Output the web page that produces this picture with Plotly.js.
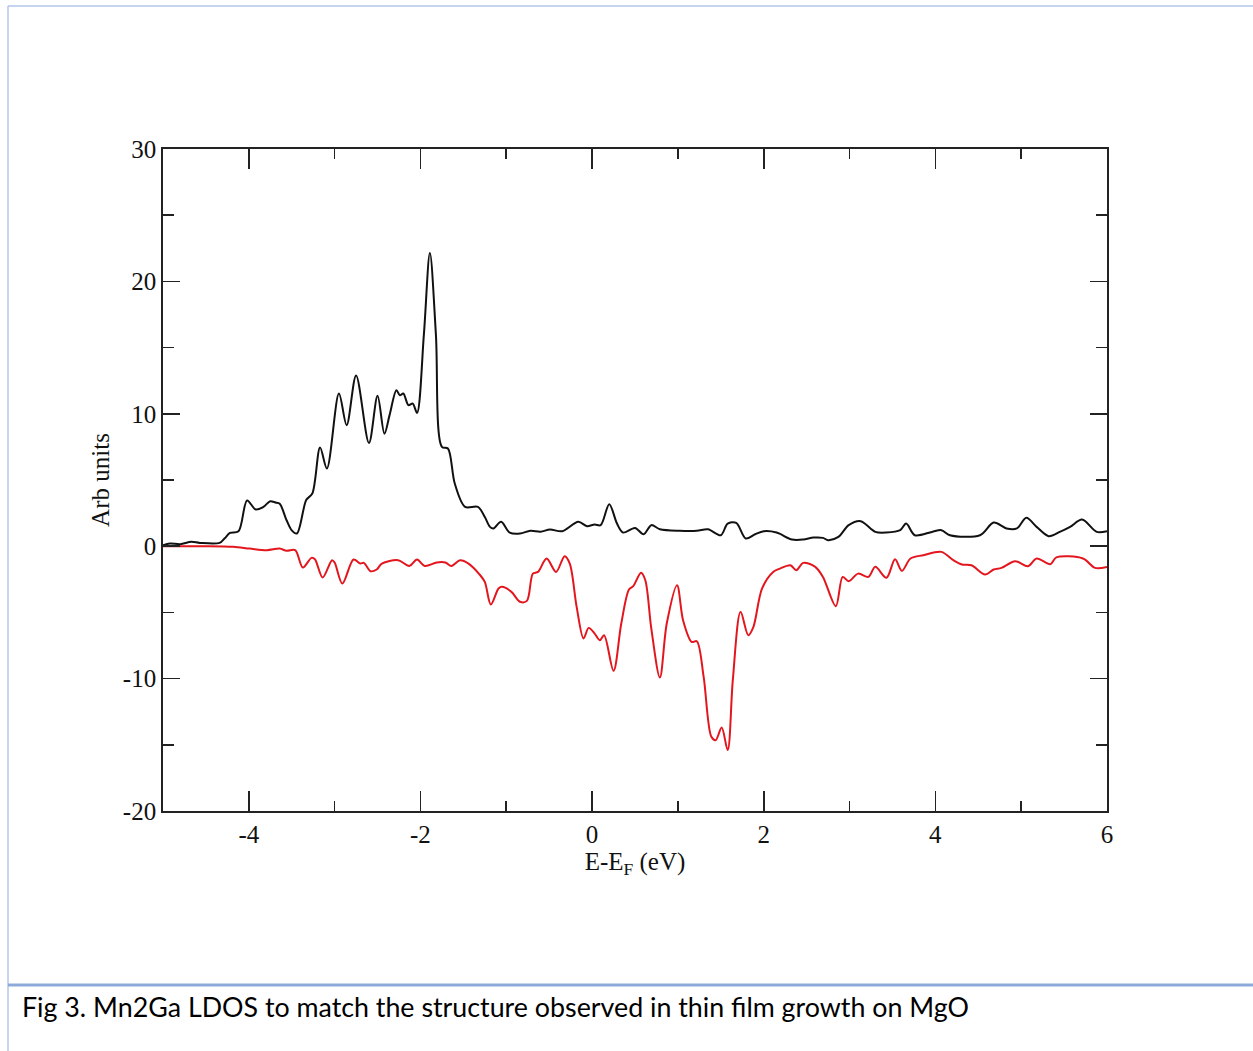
<!DOCTYPE html>
<html>
<head>
<meta charset="utf-8">
<script src="https://cdn.plot.ly/plotly-3.0.1.min.js"></script>
<style>html,body{margin:0;padding:0;background:#fff;} #chart{width:1253px;height:1051px;}</style>
</head>
<body>
<div id="chart"></div>
<script>
// Spin-up (majority) LDOS
const upEnergy = [-5.0,-4.92,-4.8,-4.67,-4.57,-4.34,-4.28,-4.22,-4.12,-4.02,-3.92,-3.83,-3.75,-3.69,-3.64,-3.56,-3.5,-3.44,-3.33,-3.26,-3.17,-3.09,-2.95,-2.86,-2.75,-2.6,-2.5,-2.42,-2.36,-2.28,-2.24,-2.2,-2.14,-2.09,-2.04,-1.96,-1.89,-1.82,-1.75,-1.68,-1.6,-1.48,-1.33,-1.25,-1.19,-1.15,-1.06,-0.96,-0.84,-0.72,-0.6,-0.49,-0.35,-0.16,-0.06,0.03,0.1,0.2,0.29,0.36,0.5,0.6,0.69,0.79,1.02,1.22,1.35,1.5,1.58,1.68,1.79,1.9,2.0,2.15,2.33,2.46,2.58,2.69,2.75,2.87,2.99,3.13,3.3,3.43,3.59,3.66,3.76,3.96,4.07,4.17,4.52,4.68,4.83,4.95,5.06,5.18,5.32,5.45,5.57,5.71,5.88,6.0];
const upDos = [0.07,0.2,0.15,0.33,0.25,0.25,0.6,1.0,1.13,3.45,2.77,2.97,3.4,3.3,3.2,1.96,1.2,0.96,3.5,3.98,7.45,5.87,11.53,9.14,12.9,7.8,11.36,8.5,9.9,11.78,11.4,11.53,10.65,10.77,10.07,16.0,22.15,16.0,7.5,7.38,4.73,2.97,2.97,2.2,1.46,1.34,1.85,1.03,0.96,1.16,1.1,1.26,1.13,1.84,1.51,1.64,1.59,3.17,1.71,1.03,1.38,0.9,1.59,1.28,1.16,1.16,1.28,0.83,1.71,1.76,0.58,0.9,1.13,1.03,0.5,0.5,0.65,0.63,0.45,0.7,1.59,1.89,1.08,1.03,1.21,1.71,0.83,1.08,1.21,0.83,0.83,1.79,1.34,1.34,2.14,1.46,0.76,1.08,1.46,2.01,1.08,1.13];

// Spin-down (minority) LDOS
const downEnergy = [-5.0,-4.5,-4.18,-3.99,-3.79,-3.64,-3.56,-3.46,-3.37,-3.27,-3.23,-3.14,-3.03,-3.0,-2.91,-2.78,-2.7,-2.66,-2.58,-2.51,-2.45,-2.26,-2.13,-2.04,-1.95,-1.81,-1.71,-1.64,-1.54,-1.44,-1.31,-1.25,-1.18,-1.09,-1.05,-0.94,-0.84,-0.76,-0.69,-0.63,-0.53,-0.42,-0.32,-0.26,-0.18,-0.1,-0.04,0.03,0.09,0.14,0.25,0.34,0.43,0.48,0.57,0.62,0.69,0.79,0.87,0.99,1.06,1.16,1.22,1.3,1.39,1.44,1.51,1.58,1.64,1.73,1.82,1.88,1.98,2.11,2.19,2.31,2.38,2.46,2.6,2.69,2.84,2.92,2.99,3.1,3.22,3.3,3.43,3.53,3.61,3.71,3.86,4.07,4.21,4.31,4.42,4.58,4.68,4.77,4.93,5.08,5.18,5.34,5.41,5.72,5.86,6.0];
const downDos = [0.0,0.0,-0.05,-0.18,-0.3,-0.18,-0.35,-0.3,-1.61,-0.88,-0.98,-2.36,-1.06,-1.23,-2.82,-1.01,-1.31,-1.26,-1.89,-1.76,-1.31,-1.06,-1.49,-1.01,-1.49,-1.23,-1.23,-1.49,-1.06,-1.31,-2.14,-2.7,-4.4,-3.2,-3.07,-3.45,-4.2,-4.13,-2.07,-1.94,-0.93,-1.94,-0.75,-1.31,-4.58,-6.97,-6.17,-6.6,-7.1,-6.72,-9.41,-5.84,-3.27,-3.02,-2.01,-2.57,-6.22,-9.92,-5.84,-2.95,-5.59,-7.23,-7.18,-9.87,-14.4,-14.65,-13.7,-15.4,-10.1,-4.96,-6.72,-6.09,-3.2,-1.94,-1.69,-1.44,-1.81,-1.26,-1.56,-2.32,-4.53,-2.32,-2.64,-2.07,-2.32,-1.56,-2.39,-0.98,-1.86,-0.93,-0.68,-0.43,-1.06,-1.38,-1.44,-2.14,-1.76,-1.64,-1.13,-1.51,-0.93,-1.36,-0.85,-0.93,-1.64,-1.56];

const xTickVals = [-4,-2,0,2,4,6];
const yTickVals = [-20,-10,0,10,20,30];
const captionText = 'Fig 3. Mn2Ga LDOS to match the structure observed in thin film growth on MgO';

const L = 163, R = 1107, T = 149, B = 811;
const px = v => (v - L) / (R - L);
const py = v => (B - v) / (B - T);

const traces = [
  {x: upEnergy, y: upDos, mode: 'lines', line: {color: '#111111', width: 2, shape: 'spline', smoothing: 0.9}, hoverinfo: 'skip'},
  {x: downEnergy, y: downDos, mode: 'lines', line: {color: '#e3161e', width: 2, shape: 'spline', smoothing: 0.9}, hoverinfo: 'skip'}
];

const serif = 'Liberation Serif, Times New Roman, serif';
const layout = {
  width: 1253, height: 1051,
  margin: {l: L, r: 1253 - R, t: T, b: 1051 - B},
  paper_bgcolor: '#ffffff', plot_bgcolor: '#ffffff',
  showlegend: false,
  font: {family: serif, color: '#111', size: 25},
  xaxis: {
    range: [-5, 6], tickvals: xTickVals, ticktext: xTickVals.map(String),
    ticks: 'inside', ticklen: 20, tickwidth: 1.6, tickcolor: '#222',
    minor: {dtick: 1, tick0: 0, ticks: 'inside', ticklen: 10, tickwidth: 1.6, tickcolor: '#222'},
    showline: true, linecolor: '#222', linewidth: 1.8, mirror: 'allticks',
    showgrid: false, zeroline: false,
    tickfont: {family: serif, size: 25, color: '#111'},
    title: {text: 'E-E<sub>F</sub> (eV)', font: {family: serif, size: 25, color: '#111'}, standoff: 0}
  },
  yaxis: {
    range: [-20, 30], tickvals: yTickVals, ticktext: yTickVals.map(String),
    ticks: 'inside', ticklen: 17, tickwidth: 1.6, tickcolor: '#222',
    minor: {dtick: 5, tick0: 0, ticks: 'inside', ticklen: 11, tickwidth: 1.6, tickcolor: '#222'},
    showline: true, linecolor: '#222', linewidth: 1.8, mirror: 'allticks',
    showgrid: false, zeroline: false,
    tickfont: {family: serif, size: 25, color: '#111'},
    title: {text: 'Arb units', font: {family: serif, size: 25, color: '#111'}, standoff: 6}
  },
  shapes: [
    {type: 'line', xref: 'paper', yref: 'paper', x0: px(8), x1: px(1253), y0: py(6), y1: py(6), line: {color: '#b4c6e7', width: 1.5}},
    {type: 'line', xref: 'paper', yref: 'paper', x0: px(8), x1: px(8), y0: py(6), y1: py(1051), line: {color: '#b4c6e7', width: 1.5}},
    {type: 'line', xref: 'paper', yref: 'paper', x0: px(8), x1: px(1253), y0: py(985), y1: py(985), line: {color: '#8eaadb', width: 3}}
  ],
  annotations: [
    {text: captionText, xref: 'paper', yref: 'paper', x: px(20), y: py(1007), xanchor: 'left', yanchor: 'middle',
     showarrow: false, font: {family: 'Lato, Carlito, Calibri, sans-serif', size: 26.8, color: '#000'}}
  ]
};

Plotly.newPlot('chart', traces, layout, {displayModeBar: false, staticPlot: true});
</script>
</body>
</html>
